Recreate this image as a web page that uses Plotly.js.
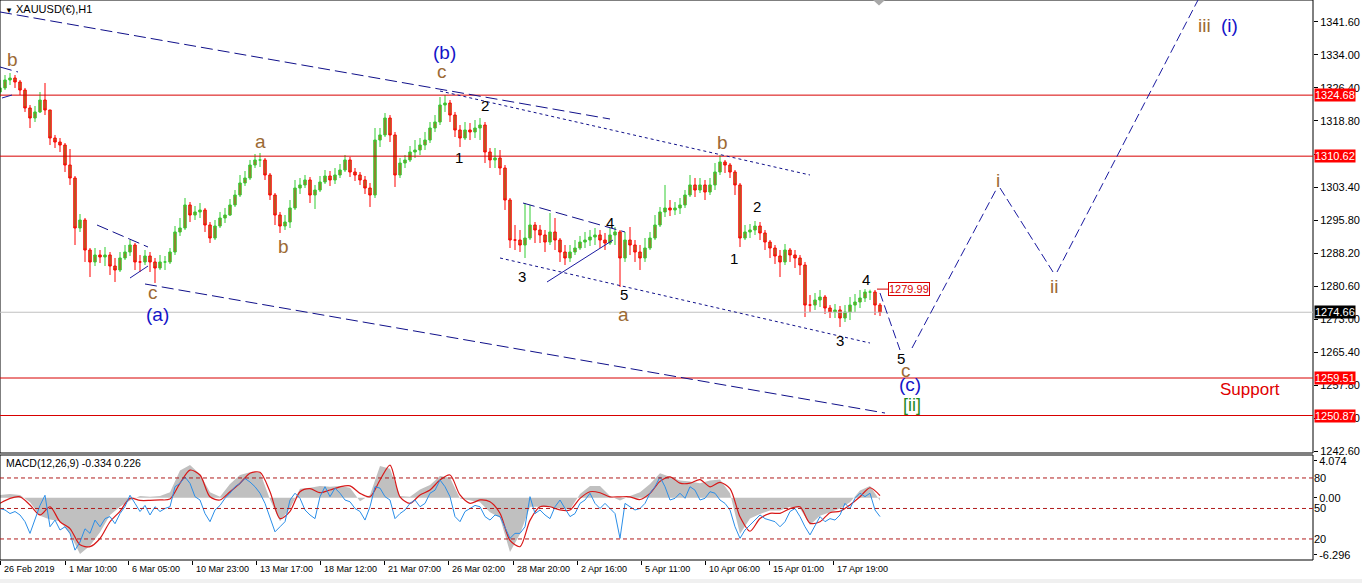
<!DOCTYPE html>
<html>
<head>
<meta charset="utf-8">
<script src="https://cdn.plot.ly/plotly-3.0.1.min.js"></script>
<style>html,body{margin:0;padding:0;background:#fff;}#chart{width:1362px;height:583px;}</style>
</head>
<body>
<div id="chart"></div>
<script>
// ---------- DATA ----------
const BAR_STEP = 5; // one sampled bar every 5 hourly bars
const priceOpen = [1325.40,1326.33,1328.17,1328.63,1327.71,1325.86,1321.72,1319.41,1320.80,1323.56,
1321.26,1314.80,1313.88,1313.19,1308.58,1305.59,1294.07,1295.91,1289.00,1286.24,
1287.85,1287.39,1287.85,1285.31,1284.39,1287.16,1288.54,1290.15,1286.24,1286.24,
1287.62,1286.24,1284.85,1286.24,1286.24,1288.54,1293.15,1294.07,1299.37,1297.06,
1297.76,1298.22,1294.76,1291.76,1294.53,1296.37,1297.06,1299.37,1301.67,1304.44,
1305.59,1308.58,1309.74,1309.74,1306.28,1301.67,1297.06,1294.53,1295.45,1298.68,
1303.28,1303.98,1305.13,1301.67,1302.82,1304.66,1306.05,1305.13,1306.28,1307.43,
1309.74,1306.97,1306.28,1305.13,1303.28,1301.67,1314.34,1315.50,1319.41,1315.50,
1306.28,1309.04,1309.74,1311.58,1312.04,1313.19,1314.34,1317.11,1318.49,1322.41,
1322.87,1320.10,1316.65,1314.80,1316.65,1316.19,1317.11,1317.80,1311.58,1309.74,
1310.20,1307.89,1300.52,1291.30,1291.30,1290.15,1291.76,1294.76,1293.61,1292.46,
1290.84,1293.15,1291.30,1288.54,1287.16,1288.54,1289.46,1290.84,1291.30,1291.99,
1292.46,1291.30,1290.61,1292.46,1293.15,1287.16,1291.30,1290.15,1288.54,1287.16,
1289.46,1291.76,1294.76,1297.76,1298.68,1298.22,1298.68,1299.37,1301.67,1303.98,
1302.82,1303.98,1302.36,1303.98,1306.97,1309.28,1308.58,1306.97,1303.98,1291.76,
1293.15,1293.61,1294.53,1292.92,1290.84,1289.46,1287.62,1286.24,1289.00,1287.85,
1287.16,1285.54,1276.32,1276.32,1277.48,1278.17,1275.64,1274.72,1275.18,1273.33,
1274.72,1276.32,1277.02,1277.94,1279.32,1279.32,1276.32];
const priceHigh = [1328.17,1329.32,1329.78,1329.32,1328.17,1326.33,1322.41,1322.18,1325.40,1327.48,
1321.26,1315.50,1314.80,1313.65,1312.27,1306.05,1297.29,1296.37,1289.46,1289.46,
1289.00,1289.69,1288.54,1287.16,1288.54,1290.15,1291.30,1290.61,1287.85,1289.00,
1288.54,1287.16,1287.85,1287.62,1289.46,1294.53,1296.37,1300.98,1300.06,1299.14,
1299.83,1298.68,1295.45,1295.91,1297.76,1298.68,1300.75,1302.82,1306.28,1307.20,
1309.74,1311.12,1311.35,1310.20,1306.74,1302.13,1297.76,1297.06,1300.52,1305.13,
1305.59,1306.28,1305.82,1303.98,1306.05,1307.43,1307.20,1307.89,1308.81,1310.89,
1310.43,1307.89,1306.97,1306.05,1304.44,1317.11,1317.11,1320.56,1320.10,1316.19,
1310.20,1310.89,1312.96,1314.34,1314.80,1316.19,1318.49,1320.10,1324.25,1324.71,
1323.56,1320.80,1317.80,1318.49,1318.26,1318.95,1319.41,1318.49,1312.50,1312.50,
1312.04,1308.58,1300.98,1294.76,1293.61,1299.83,1299.37,1295.45,1294.76,1293.61,
1297.52,1296.37,1291.76,1290.15,1290.15,1291.30,1292.23,1293.15,1293.61,1294.07,
1293.61,1292.92,1294.07,1294.30,1293.61,1293.15,1294.30,1291.30,1290.15,1291.76,
1293.15,1297.06,1298.91,1303.98,1300.52,1300.06,1300.98,1302.82,1306.28,1305.59,
1305.59,1305.13,1305.59,1309.04,1310.89,1309.74,1309.04,1307.43,1304.44,1294.76,
1294.99,1295.68,1295.45,1293.61,1291.30,1290.15,1289.00,1290.38,1289.46,1289.00,
1287.85,1286.24,1278.63,1279.09,1279.78,1278.63,1276.32,1276.56,1276.10,1276.32,
1278.17,1278.86,1279.78,1279.99,1279.85,1279.78,1276.79];
const priceLow = [1324.25,1325.86,1327.02,1326.33,1324.71,1320.80,1317.11,1318.49,1320.56,1320.10,
1313.19,1312.50,1311.58,1306.97,1303.98,1290.15,1293.15,1286.24,1282.78,1285.31,
1286.00,1285.31,1283.24,1281.63,1283.93,1286.70,1287.62,1284.39,1283.93,1285.54,
1283.93,1281.40,1284.39,1284.39,1285.77,1287.85,1292.23,1293.61,1295.45,1295.91,
1296.37,1293.15,1290.61,1291.30,1294.07,1295.22,1296.83,1298.91,1301.21,1303.75,
1305.13,1307.89,1308.12,1305.13,1300.52,1294.76,1292.92,1293.61,1294.07,1298.22,
1301.90,1303.28,1299.83,1298.45,1302.36,1304.21,1303.75,1304.21,1305.59,1306.97,
1305.82,1304.90,1303.98,1301.90,1298.91,1300.98,1312.73,1315.03,1313.88,1303.52,
1305.59,1307.89,1309.28,1310.20,1310.89,1312.04,1313.65,1316.19,1317.80,1320.80,
1318.49,1315.03,1312.73,1314.34,1314.34,1314.80,1314.34,1309.04,1307.89,1307.89,
1306.28,1298.22,1289.46,1289.00,1288.54,1287.16,1291.30,1290.61,1290.61,1288.54,
1290.15,1289.00,1286.24,1285.54,1286.24,1287.85,1289.00,1289.46,1289.92,1290.15,
1289.46,1289.00,1290.15,1290.15,1280.48,1286.24,1287.85,1286.24,1284.39,1286.24,
1289.00,1291.30,1294.30,1296.60,1296.83,1297.06,1297.29,1298.68,1301.21,1301.21,
1302.13,1300.52,1301.67,1302.82,1306.28,1306.74,1305.59,1301.67,1289.69,1291.30,
1291.76,1292.46,1291.30,1289.00,1287.16,1285.77,1282.78,1285.54,1286.24,1284.85,
1283.24,1273.56,1274.72,1275.18,1275.87,1274.25,1273.33,1273.33,1271.26,1272.41,
1272.87,1274.72,1275.64,1277.02,1277.48,1274.02,1273.79];
const priceClose = [1326.33,1328.17,1328.63,1327.71,1325.86,1321.72,1319.41,1320.80,1323.56,1321.26,
1314.80,1313.88,1313.19,1308.58,1305.59,1294.07,1295.91,1289.00,1286.24,1287.85,
1287.39,1287.85,1285.31,1284.39,1287.16,1288.54,1290.15,1286.24,1286.24,1287.62,
1286.24,1284.85,1286.24,1286.24,1288.54,1293.15,1294.07,1299.37,1297.06,1297.76,
1298.22,1294.76,1291.76,1294.53,1296.37,1297.06,1299.37,1301.67,1304.44,1305.59,
1308.58,1309.74,1309.74,1306.28,1301.67,1297.06,1294.53,1295.45,1298.68,1303.28,
1303.98,1305.13,1301.67,1302.82,1304.66,1306.05,1305.13,1306.28,1307.43,1309.74,
1306.97,1306.28,1305.13,1303.28,1301.67,1314.34,1315.50,1319.41,1315.50,1306.28,
1309.04,1309.74,1311.58,1312.04,1313.19,1314.34,1317.11,1318.49,1322.41,1322.87,
1320.10,1316.65,1314.80,1316.65,1316.19,1317.11,1317.80,1311.58,1309.74,1310.20,
1307.89,1300.52,1291.30,1291.30,1290.15,1291.76,1294.76,1293.61,1292.46,1290.84,
1293.15,1291.30,1288.54,1287.16,1288.54,1289.46,1290.84,1291.30,1291.99,1292.46,
1291.30,1290.61,1292.46,1293.15,1287.16,1291.30,1290.15,1288.54,1287.16,1289.46,
1291.76,1294.76,1297.76,1298.68,1298.22,1298.68,1299.37,1301.67,1303.98,1302.82,
1303.98,1302.36,1303.98,1306.97,1309.28,1308.58,1306.97,1303.98,1291.76,1293.15,
1293.61,1294.53,1292.92,1290.84,1289.46,1287.62,1286.24,1289.00,1287.85,1287.16,
1285.54,1276.32,1276.32,1277.48,1278.17,1275.64,1274.72,1275.18,1273.33,1274.72,
1276.32,1277.02,1277.94,1279.32,1279.32,1276.32,1274.66];

// MACD pane
const MACD_STEP = 10;
const macdMain = [0.3,0.4,0.3,-0.5,-2.0,-2.4,-2.6,-4.0,-6.2,-5.3,
-3.8,-1.9,-1.0,-0.3,0.2,0.1,0.2,0.6,3.0,3.6,
2.6,0.6,0.1,1.5,2.5,2.8,2.8,-0.2,-2.6,-1.2,
1.0,1.1,1.3,1.2,1.3,1.1,-0.4,0.3,3.5,3.2,
0.2,0.1,0.9,1.4,2.4,2.2,-0.1,-0.3,-0.5,-1.6,
-2.2,-6.0,-4.0,-1.0,-1.0,-1.0,-1.2,-1.3,0.4,1.3,
1.3,0.2,-0.3,0.2,0.6,1.5,2.7,2.3,1.9,1.8,
1.6,1.9,2.0,0.5,-4.0,-2.3,-1.8,-1.4,-1.4,-1.0,
-1.2,-3.0,-2.0,-1.6,-1.2,-0.5,0.8,1.3,-0.33];
const macdSignal = [-0.62,-0.07,0.1,-0.8,-1.9,-1.0,-2.65,-3.4,-5.2,-5.4,
-4.5,-2.65,-1.5,-0.07,-0.3,-0.3,-0.25,-0.15,1.6,3.05,
2.5,0.1,-0.25,0.66,1.6,2.7,2.8,0.66,-2.3,-1.5,
0.66,1.0,0.55,0.85,1.2,1.3,0.48,0.1,1.95,3.6,
0.1,-0.62,0.3,0.85,1.95,2.5,0.3,-0.62,-0.25,-0.44,
-1.72,-4.7,-5.4,-2.5,-1.0,-1.0,-1.35,-1.35,-0.07,0.66,
0.55,0.1,0.1,0.1,-0.2,0.48,1.8,2.3,1.6,1.6,
2.0,1.2,1.7,1.0,-2.1,-3.7,-2.3,-1.72,-1.72,-1.2,
-1.0,-2.8,-2.65,-1.65,-1.5,-0.8,0.1,1.1,0.23];
const oscStep = 5;
const oscValues = [50,48.5,45,47,43.6,37,25.5,38.6,53,63,
32,38.6,28.8,32,25.5,9,17,30,25.5,38.6,
32,40,42,35,45,52,63,55,47,53,
43.6,51.7,47,50,51.7,71.4,74.7,81,74.7,61.6,
58.3,45,37,48.5,53,60,65,71.4,74.7,79.5,
76,71.4,65,55,42,27,32,37,58.3,65,
60,48.5,43.6,40,61.6,71.4,61.6,70,65,58.3,
56.6,50,47,38.6,51.7,71.4,70,61.6,58.3,40,
45,48.5,55,58.3,51.7,55,65,68,78,71.4,
61.6,42,37,47,50,53,51.7,42,38.6,43.6,
42,32,20.6,25.5,25.5,32,61.6,45,48.5,43.6,
40,51.7,58.3,50,42,45,55,58.3,65,55,
50,55,50,45,20.6,55,51.7,48.5,50,55,
65,71.4,81,71.4,58.3,60,65,60,71.4,68,
58.3,60,66.5,65,58.3,55,48.5,32,20.6,28.8,
33.7,38.6,43.6,40,38.6,37,32,37,47,50,
42,32,24,33.7,42,37,40,38.6,43.6,55,
50,60,65,61.6,65,48.5,42];
const oscLevels = [80, 50, 20];

// Axes labels
const priceTicks = [1242.60,1250.20,1257.80,1265.40,1273.00,1280.60,1288.20,1295.80,1303.40,1311.00,1318.80,1326.40,1334.00,1341.60];
const priceTickText = ['1242.60','1250.20','1257.80','1265.40','1273.00','1280.60','1288.20','1295.80','1303.40','','1318.80','1326.40','1334.00','1341.60'];
const macdTicks = [4.074, 0, -6.296];
const macdTickText = ['4.074', '0.00', '-6.296'];
const dateTickX = [0,65,128,192,256,320,384,448,513,577,641,705,769,833];
const dateTickText = ['26 Feb 2019','1 Mar 10:00','6 Mar 05:00','10 Mar 23:00','13 Mar 17:00','18 Mar 12:00','21 Mar 07:00','26 Mar 02:00','28 Mar 20:00','2 Apr 16:00','5 Apr 11:00','10 Apr 06:00','15 Apr 01:00','17 Apr 19:00'];

// Horizontal levels
const redLevels = [1324.68, 1310.62, 1259.51, 1250.87];
const bidPrice = 1274.66;
const wave4High = 1279.99;

// Wave count labels: [text, bar x, price, colour key, size]
const waveLabels = [
 ['b',12,1332.78,'br',19], ['(b)',444,1334.62,'bl',19], ['c',442,1330.24,'br',19],
 ['2',485,1322.18,'k',15], ['1',459,1310.20,'k',15],
 ['a',260,1314.11,'br',19], ['b',283,1289.92,'br',19],
 ['c',153,1279.32,'br',19], ['(a)',157,1274.25,'bl',19],
 ['4',610,1295.45,'k',15], ['3',522,1283.01,'k',15], ['5',624,1278.86,'k',15], ['a',623,1274.25,'br',19],
 ['b',722,1313.88,'br',19], ['2',757,1298.91,'k',15], ['1',734,1286.93,'k',15],
 ['4',866,1282.32,'k',15], ['3',840,1268.26,'k',15],
 ['5',901,1263.89,'k',15], ['c',906,1261.35,'br',19], ['(c)',910,1257.90,'bl',19], ['[ii]',912,1253.29,'gr',18],
 ['i',998,1304.90,'br',19], ['ii',1054,1280.48,'br',19],
 ['iii',1204,1340.84,'br',19], ['(i)',1229,1340.84,'bl',19],
 ['Support',1250,1256.97,'rd',17]
];

// Trend lines: [x0, p0, x1, p1, style]
const trendLines = [
 [0,1343.84,610,1319.18,'long'],
 [145,1281.17,885,1251.44,'long'],
 [440,1325.63,810,1306.28,'dot'],
 [500,1287.16,870,1267.57,'dot'],
 [97,1294.76,148,1289.69,'long'],
 [130,1282.55,148,1285.31,'solid'],
 [0,1331.16,18,1330.01,'long'],
 [2,1324.02,12,1324.71,'solid'],
 [523,1299.83,625,1293.15,'long'],
 [547,1281.63,613,1291.30,'solid'],
 [880,1279.09,900,1265.96,'proj'],
 [912,1266.42,997,1303.28,'proj'],
 [1000,1303.28,1053,1283.93,'proj'],
 [1057,1283.93,1198,1346.60,'proj']
];

// ---------- BUILD ----------
const FONT = 'Liberation Sans, Arial, sans-serif';
const barX = priceClose.map((_, i) => i * BAR_STEP);
const macdX = macdMain.map((_, i) => i * MACD_STEP);
const oscX = oscValues.map((_, i) => i * oscStep);

const colours = {br:'#9c6a34', bl:'#1414c8', k:'#000000', gr:'#1f8a1f', rd:'#e00000'};
const styles = {
 long: {color:'#10108a', dash:'12px,5px', width:1},
 dot: {color:'#10108a', dash:'3px,3px', width:1},
 solid: {color:'#1a1aa0', dash:'solid', width:1},
 proj: {color:'#1a1aa0', dash:'9px,4px', width:1}
};

const mainBottom = 107/560, macdTop = 105/560;

const traces = [
 {type:'scatter', mode:'lines', x:macdX, y:macdMain, xaxis:'x', yaxis:'y2',
  fill:'tozeroy', fillcolor:'#c0c0c0', line:{width:0, color:'#c0c0c0'}, hoverinfo:'skip'},
 {type:'scatter', mode:'lines', x:macdX, y:macdSignal, xaxis:'x', yaxis:'y2',
  line:{width:1.2, color:'#d81818', shape:'spline', smoothing:0.8}, hoverinfo:'skip'},
 {type:'scatter', mode:'lines', x:oscX, y:oscValues, xaxis:'x', yaxis:'y3',
  line:{width:1, color:'#2a8ee8'}, hoverinfo:'skip'},
 {type:'candlestick', x:barX, open:priceOpen, high:priceHigh, low:priceLow, close:priceClose,
  xaxis:'x', yaxis:'y',
  increasing:{line:{color:'#32cd32', width:1}, fillcolor:'#a8702a'},
  decreasing:{line:{color:'#ff0000', width:1}, fillcolor:'#a8702a'},
  whiskerwidth:0, hoverinfo:'skip'}
];

const shapes = [];
shapes.push({type:'rect', xref:'paper', yref:'paper', x0:0, x1:1, y0:mainBottom, y1:1, line:{color:'#000', width:1}});
shapes.push({type:'rect', xref:'paper', yref:'paper', x0:0, x1:1, y0:0, y1:macdTop, line:{color:'#000', width:1}});
shapes.push({type:'rect', xref:'paper', yref:'paper', x0:0, x1:1.04, y0:-0.045, y1:-0.034, fillcolor:'#f0f0f0', line:{width:0}});
shapes.push({type:'line', xref:'paper', yref:'y', x0:0, x1:1, y0:bidPrice, y1:bidPrice, line:{color:'#c0c0c0', width:1}});
redLevels.forEach(v => shapes.push({type:'line', xref:'paper', yref:'y', x0:0, x1:1, y0:v, y1:v, line:{color:'#d80000', width:1}}));
oscLevels.forEach(v => shapes.push({type:'line', xref:'paper', yref:'y3', x0:0, x1:1, y0:v, y1:v, line:{color:'#b01c1c', width:1, dash:'4px,3px'}}));
trendLines.forEach(l => shapes.push({type:'line', xref:'x', yref:'y', x0:l[0], y0:l[1], x1:l[2], y1:l[3], line:styles[l[4]]}));
shapes.push({type:'line', xref:'x', yref:'y', x0:877, x1:888, y0:wave4High, y1:wave4High, line:{color:'#d80000', width:1}});
shapes.push({type:'path', xref:'x', yref:'paper', path:'M 873,1 L 885,1 L 879,0.99 Z', fillcolor:'#a8a8a8', line:{width:0}});

const annotations = [];
annotations.push({xref:'paper', yref:'paper', x:0, y:1, xanchor:'left', yanchor:'top', xshift:3, yshift:-1, showarrow:false,
 text:'<span style="font-size:8px">▼</span> XAUUSD(€),H1', font:{family:FONT, size:11, color:'#000'}});
annotations.push({xref:'paper', yref:'paper', x:0, y:(560-463)/560, xanchor:'left', yanchor:'middle', xshift:4, showarrow:false,
 text:'MACD(12,26,9) -0.334 0.226', font:{family:FONT, size:10.5, color:'#000'}});
waveLabels.forEach(w => annotations.push({xref:'x', yref:'y', x:w[1], y:w[2], text:w[0], showarrow:false,
 font:{family:FONT, size:w[4], color:colours[w[3]]}}));
redLevels.forEach(v => annotations.push({xref:'paper', yref:'y', x:1, y:v, xanchor:'left', xshift:1, showarrow:false,
 text:v.toFixed(2), bgcolor:'#ff0000', borderpad:0, font:{family:FONT, size:11, color:'#fff'}}));
annotations.push({xref:'paper', yref:'y', x:1, y:bidPrice, xanchor:'left', xshift:1, showarrow:false,
 text:bidPrice.toFixed(2), bgcolor:'#000000', borderpad:0, font:{family:FONT, size:11, color:'#fff'}});
annotations.push({xref:'x', yref:'y', x:888, y:wave4High, xanchor:'left', showarrow:false,
 text:wave4High.toFixed(2), bgcolor:'#ffffff', bordercolor:'#d80000', borderwidth:1, borderpad:0,
 font:{family:FONT, size:11, color:'#d80000'}});
dateTickX.forEach((x, i) => annotations.push({xref:'x', yref:'paper', x:x, y:0, xanchor:'left', yanchor:'top',
 xshift:2, yshift:-2, showarrow:false, text:dateTickText[i], font:{family:FONT, size:9, color:'#000'}}));

const layout = {
 width:1362, height:583,
 margin:{l:0, r:49, t:0, b:23, pad:0},
 paper_bgcolor:'#ffffff', plot_bgcolor:'#ffffff',
 showlegend:false, hovermode:false, dragmode:false,
 font:{family:FONT, size:11, color:'#000'},
 xaxis:{range:[0,1313], domain:[0,1], anchor:'y2', showgrid:false, zeroline:false, showline:false,
  tickvals:dateTickX, ticks:'outside', ticklen:4, tickcolor:'#000', showticklabels:false,
  rangeslider:{visible:false}, fixedrange:true},
 yaxis:{domain:[mainBottom,1], range:[1242.23,1346.6], side:'right', anchor:'x', showgrid:false, zeroline:false,
  tickvals:priceTicks, ticktext:priceTickText, ticks:'outside', ticklen:4, tickcolor:'#000',
  tickfont:{family:FONT, size:11, color:'#000'}, fixedrange:true},
 yaxis2:{domain:[0,macdTop], range:[-6.87,4.71], side:'right', anchor:'x', showgrid:false, zeroline:false,
  tickvals:macdTicks, ticktext:macdTickText, ticks:'outside', ticklen:3, tickcolor:'#000',
  tickfont:{family:FONT, size:11, color:'#000'}, fixedrange:true},
 yaxis3:{overlaying:'y2', range:[-0.7,102.6], side:'right', anchor:'x', showgrid:false, zeroline:false,
  tickvals:oscLevels, ticktext:oscLevels.map(String), ticks:'', tickfont:{family:FONT, size:11, color:'#000'}, fixedrange:true},
 shapes:shapes,
 annotations:annotations
};

Plotly.newPlot('chart', traces, layout, {displayModeBar:false, staticPlot:true});
</script>
</body>
</html>
